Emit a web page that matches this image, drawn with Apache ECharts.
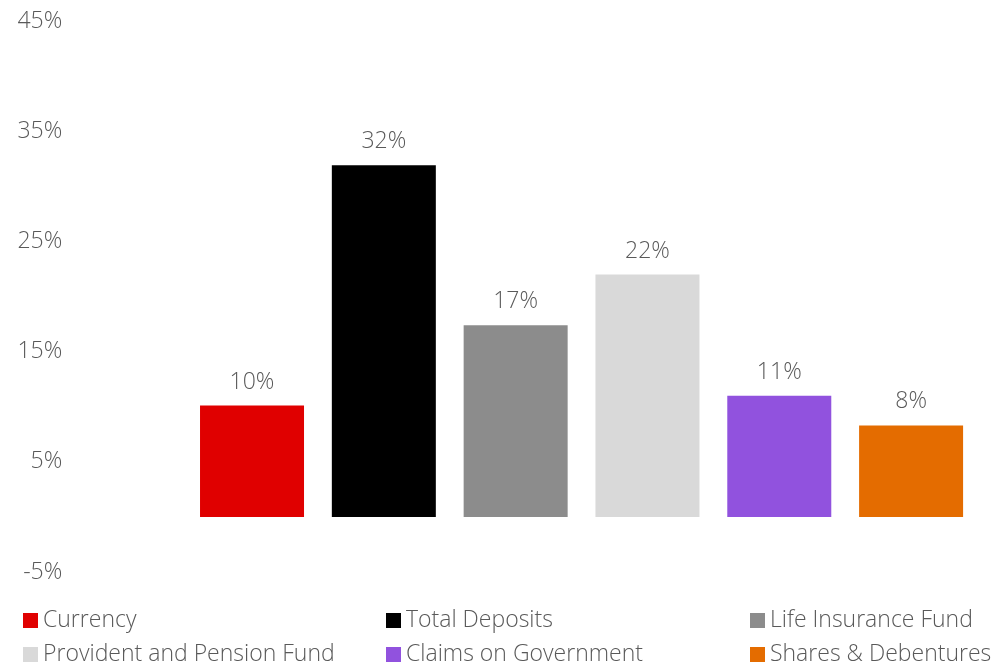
<!DOCTYPE html>
<html>
<head>
<meta charset="utf-8">
<script src="https://cdn.jsdelivr.net/npm/echarts@6/dist/echarts.min.js"></script>
<style>
html,body{margin:0;padding:0;background:#fff;}
#chart{width:1004px;height:664px;}
</style>
</head>
<body>
<div id="chart"></div>
<script>
const seriesNames = ['Currency', 'Total Deposits', 'Life Insurance Fund', 'Provident and Pension Fund', 'Claims on Government', 'Shares & Debentures'];
const values = [10.1, 31.9, 17.4, 22.0, 11.0, 8.3];
const colors = ['#E00000', '#000000', '#8C8C8C', '#D9D9D9', '#9152DE', '#E46C00'];
const xCategories = [''].concat(seriesNames);
const yTicks = { min: -5, max: 45, interval: 10 };

const FONT = 'Open Sans';
const TEXT = '#595959';
const FS = 23;

const series = seriesNames.map((name, i) => {
  const data = xCategories.map((c, j) => (j === i + 1 ? values[i] : '-'));
  return {
    name: name,
    type: 'bar',
    stack: 'all',
    barWidth: 104,
    data: data,
    itemStyle: { color: colors[i] },
    label: {
      show: true,
      position: 'top',
      distance: 12,
      formatter: p => Math.round(p.value) + '%',
      fontFamily: FONT, fontWeight: 300, fontSize: FS, color: TEXT
    }
  };
});

const legendPos = [
  [23, 609], [386, 609], [750, 609],
  [23, 643], [386, 643], [750, 643]
];
const legends = seriesNames.map((name, i) => ({
  data: [name],
  left: legendPos[i][0],
  top: legendPos[i][1],
  padding: 0,
  itemWidth: 15,
  itemHeight: 15,
  icon: 'rect',
  selectedMode: false,
  textStyle: { fontFamily: FONT, fontWeight: 300, fontSize: FS, color: TEXT }
}));

const chart = echarts.init(document.getElementById('chart'));
chart.setOption({
  animation: false,
  backgroundColor: '#fff',
  grid: { left: 54.3, right: 27, top: 21, bottom: 92, containLabel: false },
  legend: legends,
  xAxis: {
    type: 'category',
    data: xCategories,
    axisLine: { show: false },
    axisTick: { show: false },
    axisLabel: { show: false },
    splitLine: { show: false }
  },
  yAxis: {
    type: 'value',
    min: yTicks.min,
    max: yTicks.max,
    interval: yTicks.interval,
    axisLine: { show: false },
    axisTick: { show: false },
    splitLine: { show: false },
    axisLabel: {
      margin: -8,
      formatter: v => v + '%',
      fontFamily: FONT, fontWeight: 300, fontSize: FS, color: TEXT
    }
  },
  series: series
});
</script>
</body>
</html>
